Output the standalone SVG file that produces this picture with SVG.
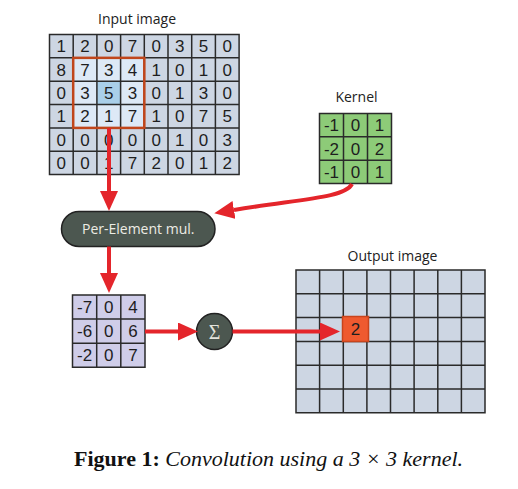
<svg xmlns="http://www.w3.org/2000/svg" width="518" height="489" viewBox="0 0 518 489">
<defs>
<style>
.lbl{font-family:"Open Sans","Liberation Sans",sans-serif;font-size:14px;fill:#222;text-anchor:middle}
.num{font-family:"Liberation Sans",Arial,sans-serif;font-size:17px;fill:#1e1e1e;text-anchor:middle}
.grid{fill:none;stroke:#2a2a2a;stroke-width:1.5}
.conn{fill:none;stroke:#e4252b;stroke-width:4}
.dark{fill:#4c5750;stroke:#222;stroke-width:1.5}
</style>
<marker id="ah" viewBox="0 0 20 18" refX="0" refY="9" markerWidth="20" markerHeight="18" markerUnits="userSpaceOnUse" orient="auto">
<path d="M0 0 L20 9 L0 18 Z" fill="#e4252b"/>
</marker>
</defs>
<rect width="518" height="489" fill="#fff"/>

<g id="input">
<text class="lbl" x="137" y="24">Input image</text>
<rect x="49.5" y="34.5" width="189.6" height="140.1" fill="#cdd6e3"/>
<rect x="73.2" y="57.85" width="71.1" height="70.05" fill="#dde9f6"/>
<rect x="96.9" y="81.2" width="23.7" height="23.35" fill="#a9cfe9"/>
<path class="grid" d="M49.5 34.5H239.1V174.6H49.5Z M73.2 34.5V174.6 M96.9 34.5V174.6 M120.6 34.5V174.6 M144.3 34.5V174.6 M168 34.5V174.6 M191.7 34.5V174.6 M215.4 34.5V174.6 M49.5 57.85H239.1 M49.5 81.2H239.1 M49.5 104.55H239.1 M49.5 127.9H239.1 M49.5 151.25H239.1"/>
<rect x="73.2" y="57.85" width="71.1" height="70.05" fill="none" stroke="#c0461b" stroke-width="2.5"/>
<g class="num">
<text x="61.35" y="52.3">1</text><text x="85.05" y="52.3">2</text><text x="108.75" y="52.3">0</text><text x="132.45" y="52.3">7</text><text x="156.15" y="52.3">0</text><text x="179.85" y="52.3">3</text><text x="203.55" y="52.3">5</text><text x="227.25" y="52.3">0</text>
<text x="61.35" y="75.7">8</text><text x="85.05" y="75.7">7</text><text x="108.75" y="75.7">3</text><text x="132.45" y="75.7">4</text><text x="156.15" y="75.7">1</text><text x="179.85" y="75.7">0</text><text x="203.55" y="75.7">1</text><text x="227.25" y="75.7">0</text>
<text x="61.35" y="99">0</text><text x="85.05" y="99">3</text><text x="108.75" y="99">5</text><text x="132.45" y="99">3</text><text x="156.15" y="99">0</text><text x="179.85" y="99">1</text><text x="203.55" y="99">3</text><text x="227.25" y="99">0</text>
<text x="61.35" y="122.4">1</text><text x="85.05" y="122.4">2</text><text x="108.75" y="122.4">1</text><text x="132.45" y="122.4">7</text><text x="156.15" y="122.4">1</text><text x="179.85" y="122.4">0</text><text x="203.55" y="122.4">7</text><text x="227.25" y="122.4">5</text>
<text x="61.35" y="145.7">0</text><text x="85.05" y="145.7">0</text><text x="108.75" y="145.7">0</text><text x="132.45" y="145.7">0</text><text x="156.15" y="145.7">0</text><text x="179.85" y="145.7">1</text><text x="203.55" y="145.7">0</text><text x="227.25" y="145.7">3</text>
<text x="61.35" y="169.1">0</text><text x="85.05" y="169.1">0</text><text x="108.75" y="169.1">1</text><text x="132.45" y="169.1">7</text><text x="156.15" y="169.1">2</text><text x="179.85" y="169.1">0</text><text x="203.55" y="169.1">1</text><text x="227.25" y="169.1">2</text>
</g>
</g>

<g id="kernel">
<text class="lbl" x="356.5" y="101.5">Kernel</text>
<rect x="319.5" y="113.5" width="72" height="70" fill="#8dcb78"/>
<path class="grid" d="M319.5 113.5H391.5V183.5H319.5Z M343.5 113.5V183.5 M367.5 113.5V183.5 M319.5 136.8H391.5 M319.5 160.2H391.5"/>
<g class="num">
<text x="331.5" y="131.3">-1</text><text x="355.5" y="131.3">0</text><text x="379.5" y="131.3">1</text>
<text x="331.5" y="154.6">-2</text><text x="355.5" y="154.6">0</text><text x="379.5" y="154.6">2</text>
<text x="331.5" y="178">-1</text><text x="355.5" y="178">0</text><text x="379.5" y="178">1</text>
</g>
</g>

<g id="mul">
<rect class="dark" x="61.5" y="211.5" width="153.5" height="35" rx="17.5"/>
<text class="lbl" x="138.2" y="234" style="fill:#ecece4">Per-Element mul.</text>
</g>

<g id="result">
<rect x="72.5" y="295" width="72.5" height="72.3" fill="#cfcde9"/>
<path class="grid" d="M72.5 295H145V367.3H72.5Z M96.7 295V367.3 M120.8 295V367.3 M72.5 319.1H145 M72.5 343.2H145"/>
<g class="num">
<text x="84.6" y="313.3">-7</text><text x="108.7" y="313.3">0</text><text x="132.9" y="313.3">4</text>
<text x="84.6" y="337.3">-6</text><text x="108.7" y="337.3">0</text><text x="132.9" y="337.3">6</text>
<text x="84.6" y="361.3">-2</text><text x="108.7" y="361.3">0</text><text x="132.9" y="361.3">7</text>
</g>
</g>

<g id="sum">
<circle class="dark" cx="214.5" cy="331.5" r="18"/>
<text x="214.5" y="338.5" font-family="Liberation Serif,serif" font-size="20" fill="#e4e4dc" text-anchor="middle">Σ</text>
</g>

<g id="output">
<text class="lbl" x="392.5" y="261">Output image</text>
<rect x="296" y="270" width="189" height="142.8" fill="#cdd6e3"/>
<path class="grid" d="M296 270H485V412.8H296Z M319.6 270V412.8 M343.3 270V412.8 M366.9 270V412.8 M390.5 270V412.8 M414.1 270V412.8 M437.8 270V412.8 M461.4 270V412.8 M296 293.8H485 M296 317.6H485 M296 341.4H485 M296 365.2H485 M296 389H485"/>
<rect x="342.5" y="316.5" width="26" height="25" fill="#ef5a2f" stroke="#c9441c" stroke-width="1.5"/>
<text class="num" x="355.5" y="335.3">2</text>
</g>

<g id="connectors">
<path class="conn" d="M109 128V191" marker-end="url(#ah)"/>
<path class="conn" d="M352 184C345 198 300 199 234 210" marker-end="url(#ah)"/>
<path class="conn" d="M109 246.5V273" marker-end="url(#ah)"/>
<path class="conn" d="M145 331.5H178" marker-end="url(#ah)"/>
<path class="conn" d="M232.5 331.5H320" marker-end="url(#ah)"/>
</g>

<text x="74" y="466" font-family="Liberation Serif,serif" font-size="22" fill="#111"><tspan font-weight="bold">Figure 1:</tspan> <tspan font-style="italic">Convolution using a 3 × 3 kernel.</tspan></text>
</svg>
